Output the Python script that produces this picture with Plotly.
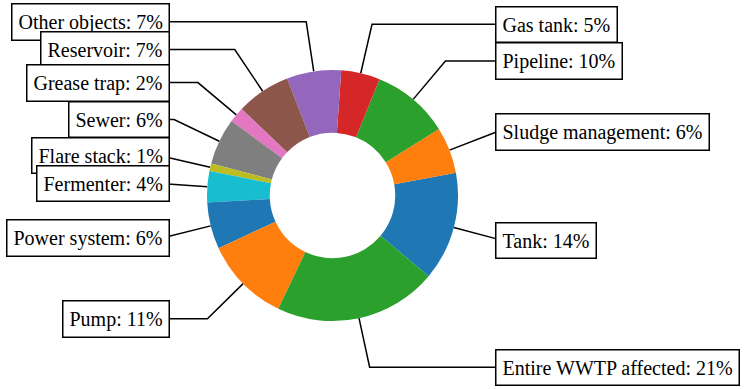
import numpy as np
import plotly.graph_objects as go

# Data (counterclockwise order, starting at -40 degrees)
categories = ["Tank", "Sludge management", "Pipeline", "Gas tank", "Other objects",
              "Reservoir", "Grease trap", "Sewer", "Flare stack", "Fermenter",
              "Power system", "Pump", "Entire WWTP affected"]
values = [14, 6, 10, 5, 7, 7, 2, 6, 1, 4, 6, 11, 21]
colors = ["#1f77b4", "#ff7f0e", "#2ca02c", "#d62728", "#9467bd", "#8c564b",
          "#e377c2", "#7f7f7f", "#bcbd22", "#17becf", "#1f77b4", "#ff7f0e", "#2ca02c"]
start_angle = -40

W, H = 746, 389
cx, cy, R = 332.5, 195.5, 125.5   # pixel centre / radius of donut
pad = 7.0
FONT = "Liberation Serif"
FS = 20

total = sum(values)
# plotly counterclockwise pies end the first slice at the rotation angle
rotation = 90 - start_angle - 360 * values[0] / total

fig = go.Figure()
fig.add_trace(go.Pie(
    labels=categories, values=values, sort=False, direction="counterclockwise",
    rotation=rotation, hole=0.5, textinfo="none", hoverinfo="label+percent",
    marker=dict(colors=colors, line=dict(width=0)),
    domain=dict(x=[(cx - R) / W, (cx + R) / W], y=[(H - cy - R) / H, (H - cy + R) / H]),
    showlegend=False,
))

cum = 0.0
annotations = []
for cat, v in zip(categories, values):
    a0 = start_angle + 360 * cum / total
    cum += v
    a1 = start_angle + 360 * cum / total
    ang = np.deg2rad((a0 + a1) / 2)
    x, y = np.cos(ang), np.sin(ang)
    sgn = 1 if x >= 0 else -1
    tx = 1.35 * sgn
    ty = 1.4 * y
    edge = tx - sgn * pad / R
    fig.add_trace(go.Scatter(
        x=[x, 1.4 * x, edge], y=[y, 1.4 * y, ty], mode="lines",
        line=dict(color="black", width=1.5), hoverinfo="skip", showlegend=False,
    ))
    pct = 100 * v / total
    annotations.append(dict(
        x=edge, y=ty, xref="x", yref="y", text=f"{cat}: {pct:.0f}%", showarrow=False,
        xanchor="left" if sgn > 0 else "right", yanchor="middle",
        font=dict(family=FONT, size=FS, color="black"),
        bgcolor="white", bordercolor="black", borderwidth=1.5, borderpad=6,
    ))

fig.update_layout(
    width=W, height=H, margin=dict(l=0, r=0, t=0, b=0),
    paper_bgcolor="white", plot_bgcolor="rgba(0,0,0,0)",
    xaxis=dict(range=[(0 - cx) / R, (W - cx) / R], visible=False, fixedrange=True),
    yaxis=dict(range=[(cy - H) / R, cy / R], visible=False, fixedrange=True),
    annotations=annotations,
)
fig.write_html("out.html", config={"displayModeBar": False},
               post_script="document.body.style.margin='0';document.body.style.overflow='hidden';")
